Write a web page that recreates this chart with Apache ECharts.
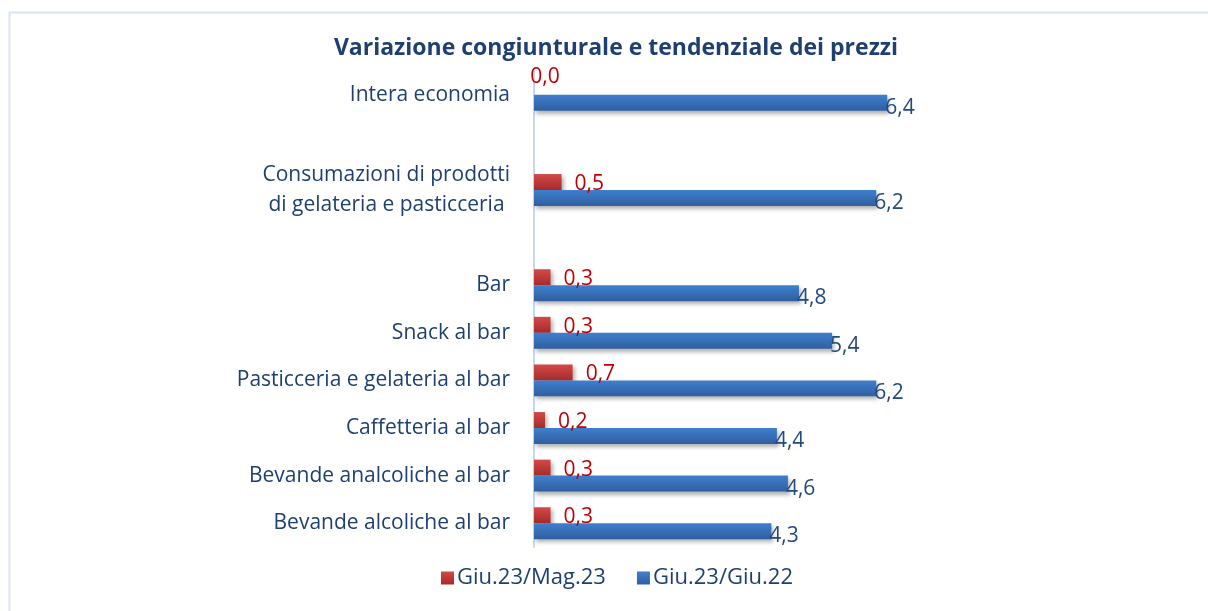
<!DOCTYPE html>
<html>
<head>
<meta charset="utf-8">
<script src="https://cdn.jsdelivr.net/npm/echarts@6/dist/echarts.min.js"></script>
<style>
html,body{margin:0;padding:0;background:#fff;}
#c{width:1208px;height:611px;}
</style>
</head>
<body>
<div id="c"></div>
<script>
const categories = [
  'Intera economia',
  '',
  'Consumazioni di prodotti\ndi gelateria e pasticceria ',
  ' ',
  'Bar',
  'Snack al bar',
  'Pasticceria e gelateria al bar',
  'Caffetteria al bar',
  'Bevande analcoliche al bar',
  'Bevande alcoliche al bar'
];
const seriesNames = ['Giu.23/Mag.23', 'Giu.23/Giu.22'];
const congiunturale = [0.0, null, 0.5, null, 0.3, 0.3, 0.7, 0.2, 0.3, 0.3];
const tendenziale   = [6.4, null, 6.2, null, 4.8, 5.4, 6.2, 4.4, 4.6, 4.3];

const FONT = '"Open Sans", "Noto Sans", sans-serif';
const fmt = v => v.value.toFixed(1).replace('.', ',');

const redGrad = new echarts.graphic.LinearGradient(0, 0, 0, 1, [
  {offset: 0, color: '#d44a48'}, {offset: 1, color: '#a52a2a'}]);
const blueGrad = new echarts.graphic.LinearGradient(0, 0, 0, 1, [
  {offset: 0, color: '#3f7fcf'}, {offset: 1, color: '#2f5f9f'}]);

const chart = echarts.init(document.getElementById('c'), null, {renderer: 'canvas'});
chart.setOption({
  animation: false,
  backgroundColor: '#ffffff',
  graphic: [{
    type: 'rect', left: 7, top: 10, silent: true,
    shape: {width: 1400, height: 800},
    style: {fill: 'none', stroke: '#d9e4f2', lineWidth: 2}
  }],
  title: {
    text: 'Variazione congiunturale e tendenziale dei prezzi',
    left: 611, top: 32, textAlign: 'center',
    textStyle: {fontFamily: FONT, fontSize: 23, fontWeight: 'bold', color: '#1f3f73'}
  },
  legend: {
    bottom: 17, left: 436, itemGap: 31, itemWidth: 13, itemHeight: 13,
    icon: 'rect',
    textStyle: {fontFamily: FONT, fontSize: 22, color: '#1f3f73', padding: [0, 0, 0, -2]},
    data: seriesNames
  },
  grid: {left: 534, width: 386.4, top: 71, bottom: 64, containLabel: false},
  xAxis: {
    type: 'value', min: 0, max: 7, show: false
  },
  yAxis: {
    type: 'category', inverse: true, data: categories,
    axisLine: {show: true, lineStyle: {color: '#c6d7ee', width: 2}},
    axisTick: {show: false},
    axisLabel: {fontFamily: FONT, fontSize: 21, color: '#1f3f73', margin: 24, lineHeight: 30}
  },
  series: [
    {
      name: seriesNames[0], type: 'bar', barGap: '0%', barCategoryGap: '33%',
      itemStyle: {color: redGrad, shadowColor: 'rgba(0,0,0,0.3)', shadowBlur: 4, shadowOffsetX: 2, shadowOffsetY: 3},
      data: congiunturale.map(v => v === null ? null : (v === 0 ? {
        value: v,
        label: {position: 'top', distance: 0, offset: [11, 9]}
      } : v)),
      label: {show: true, position: 'right', distance: 13, offset: [0, 2], formatter: fmt,
        fontFamily: FONT, fontSize: 21, color: '#c00000'}
    },
    {
      name: seriesNames[1], type: 'bar', barGap: '0%', barCategoryGap: '33%',
      itemStyle: {color: blueGrad, shadowColor: 'rgba(0,0,0,0.3)', shadowBlur: 4, shadowOffsetX: 2, shadowOffsetY: 3},
      data: tendenziale,
      label: {show: true, position: 'right', distance: 0, offset: [-2, 5], formatter: fmt,
        fontFamily: FONT, fontSize: 21, color: '#24497e'}
    }
  ]
});
</script>
</body>
</html>
